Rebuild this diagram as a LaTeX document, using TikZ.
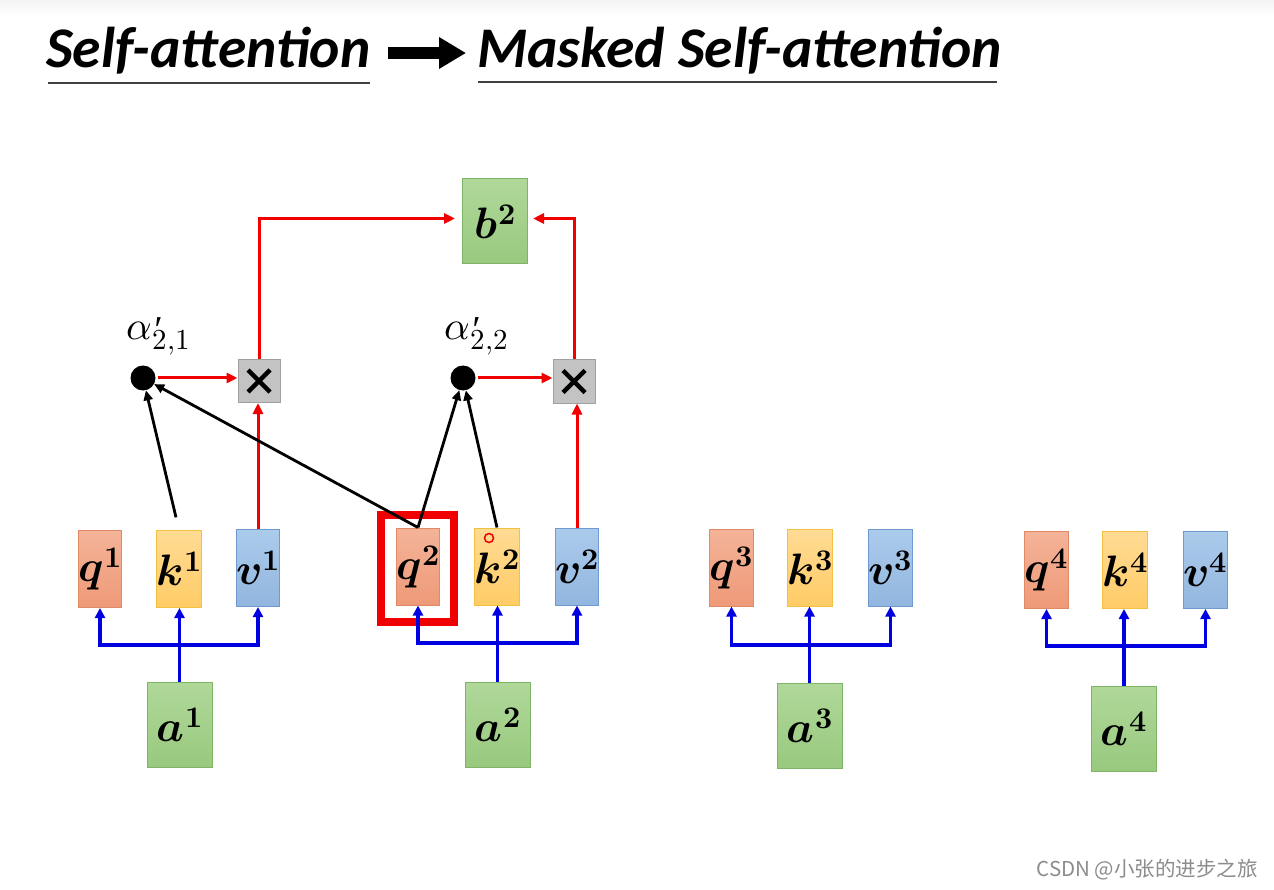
\documentclass[tikz,border=0pt]{standalone}
\usepackage{fontspec}
\usepackage{unicode-math}
\setmathfont{Latin Modern Math}
\newfontfamily\titlefont{Carlito}
\newfontfamily\cjkfont{Noto Sans CJK SC}
\newfontfamily\primefont{Liberation Serif}
\usetikzlibrary{arrows.meta,calc}
\definecolor{qtop}{HTML}{F4B398}
\definecolor{qbot}{HTML}{EE9A78}
\definecolor{qbd}{HTML}{E08A66}
\definecolor{ktop}{HTML}{FFDB94}
\definecolor{kbot}{HTML}{FFCC66}
\definecolor{kbd}{HTML}{F2C140}
\definecolor{vtop}{HTML}{ABCBEB}
\definecolor{vbot}{HTML}{92B6DF}
\definecolor{vbd}{HTML}{6E9AD0}
\definecolor{gtop}{HTML}{B0D89A}
\definecolor{gbot}{HTML}{98C97E}
\definecolor{gbd}{HTML}{7DB465}
\definecolor{xfill}{HTML}{C3C3C3}
\definecolor{xbd}{HTML}{A0A0A0}
\definecolor{rd}{HTML}{F00000}
\definecolor{bl}{HTML}{0000E0}
\newcommand\vlab[2]{$\symbfit{#1}$\kern1pt\raisebox{14pt}{\fontsize{30}{30}\selectfont$\symbf{#2}$}}
\newcommand\alab[1]{$\alpha$\kern1pt\rlap{\raisebox{-3pt}{\primefont\itshape\fontsize{38}{38}\selectfont ′}}\raisebox{-10pt}{\fontsize{29}{29}\selectfont$#1$}}
\tikzset{
  box/.style={draw, line width=1pt, minimum width=41pt, minimum height=77pt, inner sep=0pt,
    font=\fontsize{44}{44}\selectfont},
  qbox/.style={box, draw=qbd, top color=qtop, bottom color=qbot},
  kbox/.style={box, draw=kbd, top color=ktop, bottom color=kbot},
  vbox/.style={box, draw=vbd, top color=vtop, bottom color=vbot},
  abox/.style={box, draw=gbd, top color=gtop, bottom color=gbot, minimum width=65pt, minimum height=85pt},
  xbox/.style={draw=xbd, line width=1pt, fill=xfill, minimum width=42pt, minimum height=43pt, inner sep=0pt,
    path picture={
      \draw[black, line width=4.5pt] ($(path picture bounding box.center)+(-11,-11)$) -- ($(path picture bounding box.center)+(11,11)$);
      \draw[black, line width=4.5pt] ($(path picture bounding box.center)+(-11,11)$) -- ($(path picture bounding box.center)+(11,-11)$);
    }},
  dotn/.style={circle, fill=black, minimum size=25pt, inner sep=0pt},
  alabel/.style={font=\fontsize{40}{40}\selectfont, inner sep=0pt},
  redarr/.style={draw=rd, line width=3pt, -{Triangle[length=11pt,width=10pt]}},
  bluearr/.style={draw=bl, line width=3.5pt, -{Triangle[length=10pt,width=10pt]}},
  bluel/.style={draw=bl, line width=3.5pt},
  blkarr/.style={draw=black, line width=2.8pt, -{Triangle[length=10pt,width=9pt]}},
  ttl/.style={font=\titlefont\bfseries\itshape\fontsize{57.5}{57.5}\selectfont, inner sep=0pt, anchor=base west},
}
\begin{document}
\begin{tikzpicture}[x=1pt,y=-1pt]
\useasboundingbox (0,0) rectangle (1274,890);
\fill[white] (0,0) rectangle (1274,890);
\shade[top color=gray!9, bottom color=white] (0,0) rectangle (1274,16);

% title
\node[ttl] (t1) at (46,68) {Self-attention};
\node[ttl] (t2) at (477,68) {Masked Self-attention};
\draw[line width=2pt, black!75] (48,83) -- (370,83);
\draw[line width=2pt, black!75] (478,82) -- (997,82);
\coordinate (ar1) at (388,53);
\coordinate (ar2) at (466,53);
\draw[line width=12pt, -{Triangle[length=27pt,width=30pt]}] (ar1) -- (ar2);

% q k v boxes
\node[qbox] (q1) at (100,569) {\vlab{q}{1}};
\node[kbox] (k1) at (179,569) {\vlab{k}{1}};
\node[vbox] (v1) at (258,568) {\vlab{v}{1}};
\node[qbox] (q2) at (418,566.5) {\vlab{q}{2}};
\node[kbox] (k2) at (497,566.5) {\vlab{k}{2}};
\node[vbox] (v2) at (577,566.5) {\vlab{v}{2}};
\node[qbox] (q3) at (731.5,567.5) {\vlab{q}{3}};
\node[kbox] (k3) at (810,567.5) {\vlab{k}{3}};
\node[vbox] (v3) at (890.5,567.5) {\vlab{v}{3}};
\node[qbox] (q4) at (1046.5,570) {\vlab{q}{4}};
\node[kbox] (k4) at (1125,570) {\vlab{k}{4}};
\node[vbox] (v4) at (1205.5,570) {\vlab{v}{4}};

% a boxes
\node[abox] (a1) at (179.5,724.5) {\vlab{a}{1}};
\node[abox] (a2) at (497.5,724.5) {\vlab{a}{2}};
\node[abox] (a3) at (809.5,725.5) {\vlab{a}{3}};
\node[abox] (a4) at (1124,728.5) {\vlab{a}{4}};

% b box
\node[abox] (b2) at (495,221.5) {\vlab{b}{2}};

% multiply boxes and dots
\node[xbox] (x1) at (259,381) {};
\node[xbox] (x2) at (574,381.5) {};
\node[dotn] (d1) at (143,378) {};
\node[dotn] (d2) at (463,378) {};
\node[alabel] (l1) at (158,336) {\alab{2{,}1}};
\node[alabel] (l2) at (476,336) {\alab{2{,}2}};

% highlight
\node[draw=rd, line width=8pt, minimum width=73pt, minimum height=107pt, inner sep=0pt] (hl) at (417.5,568.5) {};
\draw[rd, line width=1.5pt] (489,538) circle (4.5);

% blue connectors
\foreach \i/\y in {1/645,2/643,3/645,4/646}{
  \draw[bluel] (a\i.north) -- (a\i.north |- 0,\y);
  \draw[bluearr] (a\i.north |- 0,\y) -- (a\i.north |- k\i.south);
  \draw[bluearr] (a\i.north |- 0,\y) -| (q\i.south);
  \draw[bluearr] (a\i.north |- 0,\y) -| (v\i.south);
}

% red connectors
\draw[redarr] (v1.north) -- (v1.north |- x1.south);
\draw[redarr] (v2.north) -- (v2.north |- x2.south);
\draw[redarr, shorten <=2pt] (d1.east) -- (d1.east -| x1.west);
\draw[redarr, shorten <=2pt] (d2.east) -- (d2.east -| x2.west);
\draw[redarr] (x1.north) |- ($(b2.west)+(-7,-3)$);
\draw[redarr] (x2.north) |- ($(b2.east)+(5,-3)$);

% black connectors
\draw[blkarr, shorten <=13pt] (k1.north) -- (d1);
\draw[blkarr] (q2.north) -- (d1);
\draw[blkarr] (q2.north) -- (d2);
\draw[blkarr] (k2.north) -- (d2);

% watermark
\node[font=\cjkfont\fontsize{20.5}{20.5}\selectfont, text=black!45, anchor=east, inner sep=0pt] (wm) at (1258,870) {CSDN @小张的进步之旅};
\end{tikzpicture}
\end{document}
